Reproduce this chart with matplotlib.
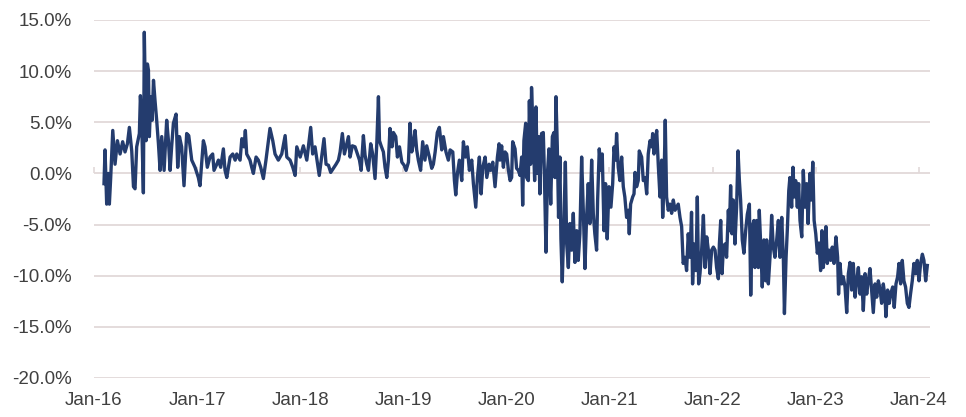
import matplotlib
matplotlib.use("Agg")
import matplotlib.pyplot as plt
from matplotlib.ticker import FuncFormatter

# decimal years / spread in %
dates = [
    2016.097, 2016.107, 2016.123, 2016.139, 2016.149, 2016.162, 2016.182, 2016.204, 2016.227, 2016.253,
    2016.278, 2016.301, 2016.324, 2016.343, 2016.366, 2016.383, 2016.398, 2016.414, 2016.440, 2016.450,
    2016.462, 2016.479, 2016.488, 2016.505, 2016.518, 2016.528, 2016.537, 2016.551, 2016.564, 2016.577,
    2016.592, 2016.608, 2016.625, 2016.641, 2016.657, 2016.680, 2016.705, 2016.722, 2016.738, 2016.753,
    2016.770, 2016.796, 2016.812, 2016.829, 2016.850, 2016.873, 2016.899, 2016.919, 2016.948, 2016.980,
    2017.012, 2017.028, 2017.061, 2017.077, 2017.099, 2017.125, 2017.151, 2017.164, 2017.191, 2017.207,
    2017.229, 2017.255, 2017.271, 2017.288, 2017.320, 2017.346, 2017.369, 2017.385, 2017.417, 2017.434,
    2017.455, 2017.468, 2017.481, 2017.513, 2017.530, 2017.546, 2017.572, 2017.594, 2017.617, 2017.643,
    2017.668, 2017.707, 2017.734, 2017.756, 2017.788, 2017.821, 2017.854, 2017.870, 2017.902, 2017.928,
    2017.951, 2017.967, 2018.000, 2018.031, 2018.064, 2018.079,
    2018.102, 2018.121, 2018.144, 2018.166, 2018.185, 2018.208, 2018.231, 2018.251, 2018.274, 2018.296,
    2018.322, 2018.348, 2018.371, 2018.387, 2018.409, 2018.429, 2018.445, 2018.468, 2018.484, 2018.506,
    2018.532, 2018.555, 2018.575, 2018.591, 2018.613, 2018.629, 2018.646, 2018.662, 2018.684, 2018.703,
    2018.726, 2018.743, 2018.759, 2018.769, 2018.785, 2018.807, 2018.823, 2018.840, 2018.856, 2018.871,
    2018.891, 2018.904, 2018.927, 2018.943, 2018.963, 2018.986, 2019.008, 2019.027, 2019.050, 2019.065,
    2019.082, 2019.098, 2019.114, 2019.130, 2019.146, 2019.168, 2019.188, 2019.210, 2019.227, 2019.253,
    2019.276, 2019.292, 2019.309, 2019.330, 2019.350, 2019.373, 2019.389, 2019.414, 2019.437, 2019.454,
    2019.480, 2019.496, 2019.509, 2019.525, 2019.544, 2019.567, 2019.583, 2019.603, 2019.621, 2019.641,
    2019.664, 2019.680, 2019.703, 2019.719, 2019.738, 2019.755, 2019.771, 2019.794, 2019.810, 2019.832,
    2019.848, 2019.868, 2019.890, 2019.913, 2019.929,
    2019.938, 2019.954, 2019.971, 2019.987, 2020.003, 2020.020, 2020.036, 2020.051, 2020.061, 2020.084,
    2020.099, 2020.116, 2020.132, 2020.148, 2020.158, 2020.170, 2020.187, 2020.196, 2020.213, 2020.223,
    2020.235, 2020.244, 2020.261, 2020.274, 2020.287, 2020.300, 2020.313, 2020.325, 2020.341, 2020.358,
    2020.368, 2020.384, 2020.400, 2020.413, 2020.430, 2020.446, 2020.461, 2020.471, 2020.481, 2020.494,
    2020.506, 2020.519, 2020.529, 2020.542, 2020.558, 2020.572, 2020.585, 2020.601, 2020.616, 2020.633,
    2020.649, 2020.665, 2020.682, 2020.697, 2020.713, 2020.730, 2020.746, 2020.762, 2020.778, 2020.794,
    2020.810, 2020.827, 2020.843, 2020.858, 2020.875, 2020.885, 2020.901, 2020.917, 2020.930, 2020.947,
    2020.962, 2020.978, 2020.995, 2021.014, 2021.031, 2021.044, 2021.059, 2021.069, 2021.085, 2021.101,
    2021.118, 2021.134, 2021.149, 2021.166, 2021.182, 2021.192, 2021.205, 2021.225, 2021.238, 2021.248,
    2021.263, 2021.279, 2021.289, 2021.312, 2021.328, 2021.345, 2021.361, 2021.376, 2021.393, 2021.409,
    2021.419, 2021.432, 2021.445, 2021.458, 2021.473, 2021.490, 2021.506, 2021.516, 2021.529, 2021.541,
    2021.554, 2021.570, 2021.587, 2021.603, 2021.619, 2021.636, 2021.652, 2021.667, 2021.684, 2021.700,
    2021.715, 2021.732, 2021.748, 2021.764, 2021.781, 2021.796, 2021.806, 2021.822, 2021.839, 2021.852,
    2021.865,
    2021.878, 2021.894, 2021.911, 2021.927, 2021.943, 2021.959, 2021.975, 2021.991, 2022.008, 2022.024,
    2022.039, 2022.056, 2022.066, 2022.079, 2022.092, 2022.105, 2022.120, 2022.136, 2022.153, 2022.163,
    2022.175, 2022.188, 2022.201, 2022.217, 2022.233, 2022.247, 2022.260, 2022.272, 2022.288, 2022.304,
    2022.321, 2022.337, 2022.357, 2022.370, 2022.385, 2022.401, 2022.411, 2022.428, 2022.444, 2022.453,
    2022.469, 2022.482, 2022.498, 2022.515, 2022.525, 2022.541, 2022.557, 2022.573, 2022.589, 2022.605,
    2022.622, 2022.638, 2022.654, 2022.671, 2022.687, 2022.697, 2022.713, 2022.726, 2022.739, 2022.750,
    2022.767, 2022.780, 2022.793, 2022.806, 2022.822, 2022.835, 2022.848, 2022.865, 2022.880, 2022.896,
    2022.913, 2022.926, 2022.945, 2022.959, 2022.972, 2022.985, 2023.001, 2023.016, 2023.032, 2023.048,
    2023.061, 2023.074, 2023.087, 2023.100, 2023.113, 2023.130, 2023.146, 2023.161, 2023.178, 2023.197,
    2023.213, 2023.222, 2023.236, 2023.252, 2023.268, 2023.285, 2023.301, 2023.317, 2023.333, 2023.349,
    2023.365, 2023.382, 2023.398, 2023.414, 2023.430, 2023.446, 2023.462, 2023.479, 2023.495, 2023.510,
    2023.527, 2023.543, 2023.559, 2023.576, 2023.592, 2023.608, 2023.624, 2023.640, 2023.656, 2023.673,
    2023.681, 2023.698, 2023.714, 2023.727, 2023.747, 2023.762, 2023.779, 2023.795, 2023.808, 2023.824,
    2023.840, 2023.856, 2023.872, 2023.889, 2023.905, 2023.920, 2023.937, 2023.953, 2023.969, 2023.986,
    2024.002, 2024.018, 2024.035, 2024.050, 2024.067, 2024.083,
]

spread = [
    -1.0, 2.3, -3.0, 0.0, -3.0, -0.4, 4.2, 0.9, 3.2, 1.9,
    3.1, 2.1, 2.9, 4.5, 2.2, -1.3, -1.5, 2.6, 3.9, 7.6,
    5.2, -1.9, 13.8, 3.2, 10.7, 10.1, 3.6, 7.5, 5.2, 9.1,
    7.1, 5.2, 2.9, 0.3, 3.6, 0.3, 5.2, 3.2, 0.3, 2.6,
    4.9, 5.8, 0.6, 3.6, 2.6, -1.2, 3.9, 3.7, 1.3, 0.6,
    -0.4, -1.2, 3.2, 2.6, 0.6, 1.6, 1.9, 0.3, 0.9, 1.3,
    0.6, 2.4, 0.3, -0.4, 1.6, 1.9, 1.3, 1.9, 1.3, 3.4,
    2.6, 4.2, 1.9, 1.3, 0.6, 0.0, 1.6, 1.3, 0.6, -0.5,
    1.3, 4.4, 3.2, 1.9, 1.3, 1.9, 3.7, 1.6, 1.3, 0.6,
    -0.2, 2.6, 1.6, 2.7, 1.3, 2.6,
    4.5, 1.9, 2.6, 1.1, -0.2, 1.6, 3.4, 0.9, 0.8, 0.1,
    0.5, 0.9, 1.3, 2.1, 3.9, 1.9, 2.6, 3.6, 1.6, 2.7,
    2.6, 1.9, 1.3, 0.3, 3.7, 1.8, 0.9, 0.3, 2.9, 1.9,
    -0.5, 2.9, 7.5, 3.2, 2.7, 2.1, 0.6, -0.4, 1.3, 4.4,
    2.6, 4.0, 3.6, 1.6, 2.6, 1.1, 0.8, 0.3, 1.1, 4.9,
    2.1, 2.9, 4.2, 2.3, 1.3, 0.3, 3.1, 1.3, 2.7, 1.6,
    0.5, 0.9, 2.1, 4.0, 4.5, 2.3, 3.6, 2.1, 1.3, 2.3,
    2.1, -0.7, -2.1, 0.0, 1.3, -0.7, 3.1, 1.6, 2.6, 0.3,
    1.3, -1.0, -3.3, -0.4, 1.6, -2.0, 0.6, 1.6, -0.4, 0.9,
    0.3, 1.1, -1.3, 1.6, 2.9,
    1.3, 2.7, 0.6, 2.1, 1.9, 0.3, -0.7, -0.4, 3.1, 2.4,
    0.5, 0.3, -0.2, 1.6, -3.1, 3.2, 4.9, -0.4, -0.7, 7.1,
    0.9, 8.4, 3.6, -0.7, 6.5, 0.0, 3.6, -2.0, 3.9, 4.0,
    0.3, -7.7, 0.3, 2.4, -3.0, 3.6, 4.0, -0.4, 7.5, 2.6,
    -4.3, 1.6, -6.4, -10.6, -4.9, 1.1, -6.9, -9.2, -4.9, -7.5,
    -3.9, -8.7, -5.6, -8.5, -5.9, 1.6, -3.6, -9.3, -4.3, -1.0,
    -4.9, 1.3, -3.9, -5.9, -7.5, -2.6, 2.4, 0.3, 1.9, -5.6,
    -1.0, -6.4, -1.3, -3.3, -1.0, 2.6, 1.3, 3.9, 0.6, -0.7,
    1.6, -1.3, -2.3, -4.3, -3.6, -5.9, -3.0, -2.3, -2.0, 0.1,
    -1.3, -0.7, 2.2, 1.6, -0.7, -0.4, -2.0, 1.9, 3.2, 2.6,
    3.9, 1.9, 3.2, 4.2, 0.9, -2.3, 1.3, -4.3, -0.7, 5.2,
    -2.3, -3.6, -3.0, -3.9, -2.6, -3.6, -3.3, -3.0, -4.3, -5.2,
    -8.8, -8.2, -9.5, -5.9, -8.2, -3.8, -10.8, -6.9, -9.5, -2.3,
    -10.8,
    -9.8, -7.5, -4.1, -9.2, -6.2, -7.5, -9.8, -7.5, -7.2, -7.5,
    -9.2, -10.3, -6.9, -4.6, -9.8, -7.2, -6.9, -8.2, -3.6, -5.6,
    -1.2, -5.9, -2.6, -6.9, -3.3, 2.2, -0.7, -2.6, -6.5, -7.8,
    -5.6, -4.0, -3.0, -11.9, -5.2, -4.6, -9.2, -4.6, -9.2, -3.6,
    -7.5, -11.1, -6.5, -10.5, -6.5, -10.8, -8.2, -4.1, -7.2, -8.2,
    -6.5, -4.6, -8.2, -4.3, -8.5, -13.7, -8.2, -5.3, -1.7, -0.4,
    -3.3, 0.6, -2.3, -0.7, -3.3, -1.0, -4.6, -6.2, 0.3, -3.3,
    -1.0, -4.9, 0.0, -2.6, 1.1, -4.6, -5.9, -7.8, -6.8, -9.5,
    -5.6, -9.2, -7.5, -5.2, -8.8, -7.5, -8.5, -7.2, -8.8, -6.2,
    -8.2, -11.8, -8.8, -10.8, -10.1, -11.1, -13.6, -9.8, -8.7, -11.4,
    -8.8, -12.1, -10.5, -9.2, -11.8, -10.1, -13.4, -9.8, -11.8, -10.5,
    -9.3, -11.4, -13.6, -10.8, -12.1, -10.5, -11.3, -12.7, -10.8, -12.1,
    -14.0, -11.4, -12.7, -11.8, -11.1, -13.1, -10.8, -10.1, -8.8, -10.8,
    -8.5, -10.5, -11.1, -12.7, -13.1, -11.8, -10.5, -8.8, -9.8, -8.5,
    -10.5, -8.8, -7.9, -8.5, -10.5, -9.0,
]

years = list(range(2016, 2025))
year_labels = ["Jan-16", "Jan-17", "Jan-18", "Jan-19", "Jan-20",
               "Jan-21", "Jan-22", "Jan-23", "Jan-24"]
y_ticks = [-20, -15, -10, -5, 0, 5, 10, 15]

plt.rcParams["font.family"] = ["Liberation Sans", "DejaVu Sans"]

LINE = "#243c6e"
GRID = "#e2d9d9"
TEXT = "#404040"

fig = plt.figure(figsize=(9.66, 4.17), dpi=100)
ax = fig.add_axes([94 / 966, 39 / 417, 836 / 966, 358 / 417])

ax.plot(dates, spread, color=LINE, lw=2.4, solid_joinstyle="round", zorder=3)

ax.set_xlim(2016.0, 2024.109)
ax.set_ylim(-20, 15)
ax.set_yticks(y_ticks)
ax.yaxis.set_major_formatter(FuncFormatter(lambda v, _: f"{v:.1f}%"))
ax.grid(axis="y", color=GRID, lw=1.3)
ax.set_axisbelow(True)
for s in ax.spines.values():
    s.set_visible(False)

ax.set_xticks(years)
ax.set_xticklabels(year_labels)
ax.tick_params(axis="both", length=0, labelsize=13.5, colors=TEXT)
ax.tick_params(axis="y", pad=16)
ax.tick_params(axis="x", pad=10)

# horizontal axis line at 0 with small tick marks, no labels
zero_axis = ax.secondary_xaxis(20 / 35)
zero_axis.set_xticks(years)
zero_axis.set_xticklabels([""] * len(years))
zero_axis.tick_params(axis="x", direction="out", length=4, width=1.2, color=GRID)
zero_axis.spines["bottom"].set_color(GRID)
zero_axis.spines["bottom"].set_linewidth(1.3)
zero_axis.spines["top"].set_visible(False)
zero_axis.set_zorder(1)

fig.savefig("out.png", dpi=100)
